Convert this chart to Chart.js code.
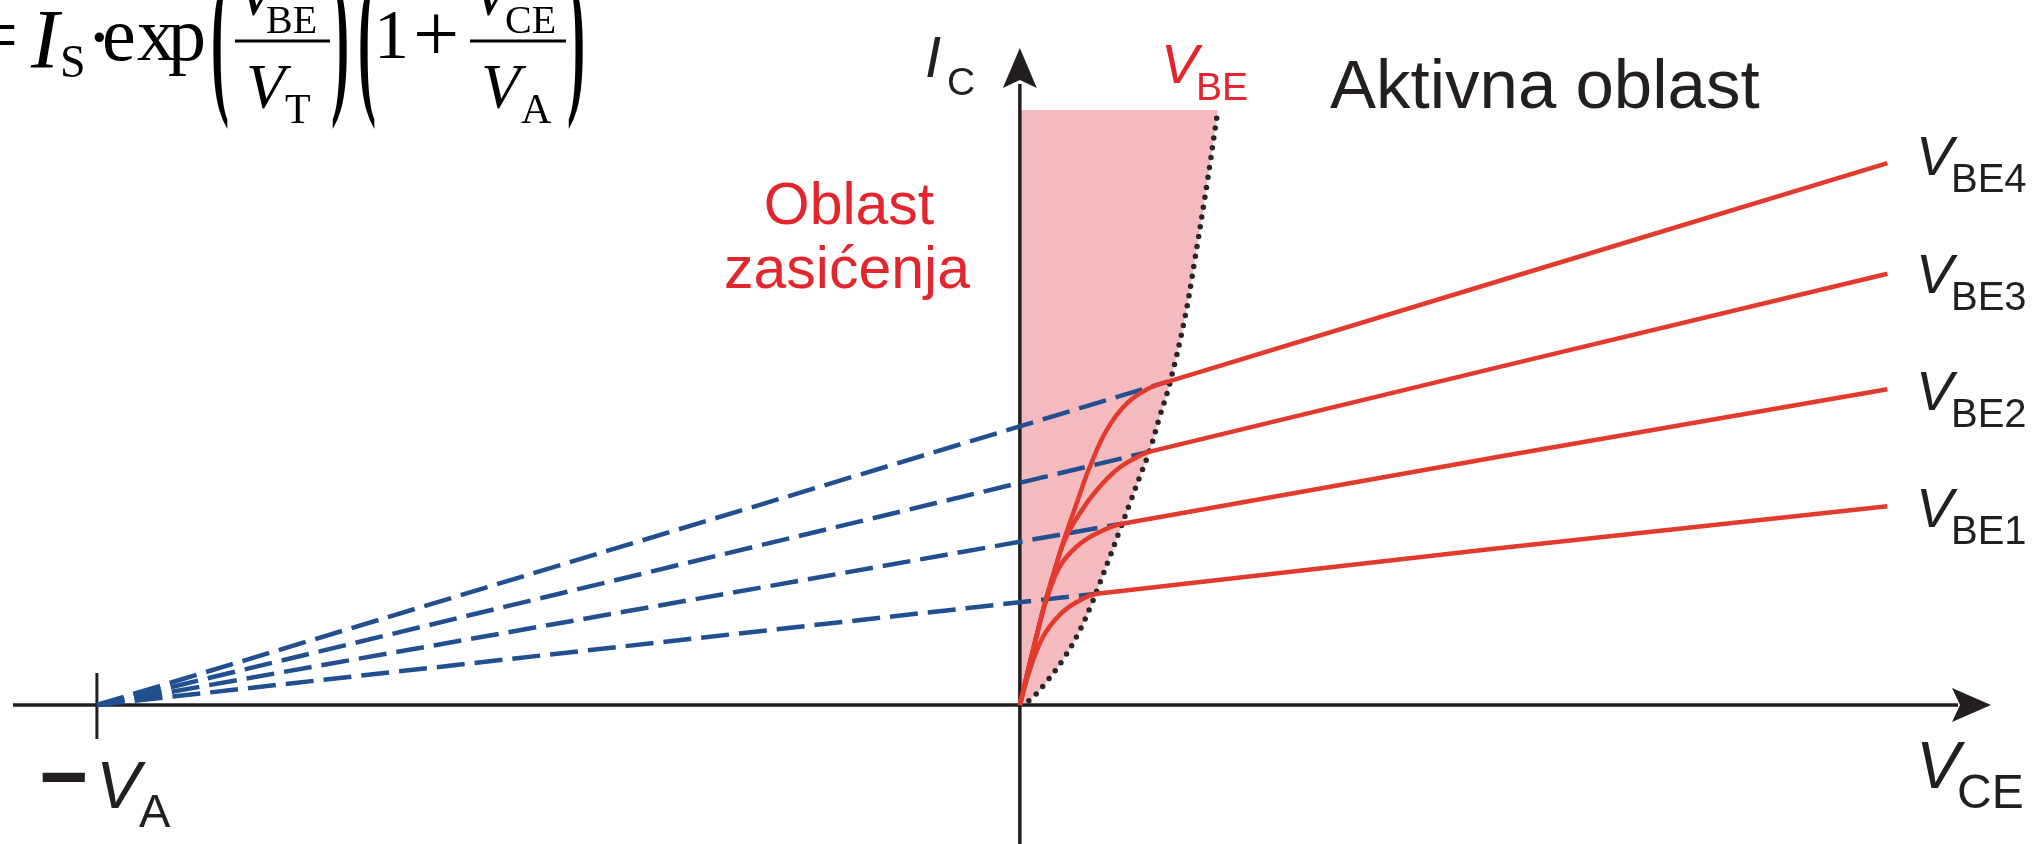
<!DOCTYPE html>
<html lang="hr">
<head>
    <meta charset="UTF-8">
    <title>Izlazne karakteristike bipolarnog tranzistora</title>
    <script src="https://cdn.jsdelivr.net/npm/chart.js"></script>
    <style>
        html, body {
            margin: 0;
            padding: 0;
            background: #ffffff;
            overflow: hidden;
        }
        .chart-box {
            position: relative;
            width: 2036px;
            height: 844px;
        }
    </style>
</head>
<body>
    <div class="chart-box">
        <canvas id="icChart"></canvas>
    </div>

    <script>
        // Earlyjev napon (V) i raspon osi (VCE u V, IC u mA)
        const VA = 50;
        const xRange = [-55.25, 55.05];
        const yRange = [-1.986, 10.071];

        // Zasićenje: IC(VCE) od ishodišta do koljena, za svaki VBE
        const satBE1 = [[0, 0], [0.54, 0.50], [1.25, 0.97], [2.17, 1.29], [3.09, 1.47], [4.17, 1.59]];
        const satBE2 = [[0, 0], [0.45, 0.50], [0.90, 0.98], [1.44, 1.50], [2.17, 1.98], [3.07, 2.26], [4.15, 2.45], [5.54, 2.59]];
        const satBE3 = [[0, 0], [0.45, 0.50], [0.90, 0.98], [1.30, 1.40], [1.80, 1.85], [2.44, 2.36], [3.25, 2.74], [4.17, 3.07], [5.25, 3.36], [6.34, 3.54], [7.04, 3.62]];
        const satBE4 = [[0, 0], [0.45, 0.50], [0.90, 0.98], [1.30, 1.40], [1.80, 1.85], [2.33, 2.31], [3.09, 2.89], [3.79, 3.40], [4.71, 3.93], [5.80, 4.31], [7.04, 4.53], [8.03, 4.62]];

        // Aktivno područje: kraj pravca na VCE = 47 V
        const vceEnd = 47;
        const icEnd = [2.84, 4.51, 6.16, 7.74];
        const curveNames = ['BE1', 'BE2', 'BE3', 'BE4'];

        // Granica zasićenja (VCE,sat) i vrh osjenčanog područja
        const satEdge = [[0, 0], [0.54, 0.07], [1.53, 0.36], [2.44, 0.69], [3.16, 1.02], [3.79, 1.38], [4.33, 1.74], [4.88, 2.12], [5.42, 2.50], [5.96, 2.88], [6.50, 3.26], [7.04, 3.64], [7.58, 4.12], [8.13, 4.60], [8.94, 5.53], [9.48, 6.36], [10.13, 7.43], [10.73, 8.50]];
        const satTop = [[0, 8.50], [10.73, 8.50]];

        const ink = '#231f20';
        const red = '#e3262d';
        const lineRed = '#e23a2d';
        const dashBlue = '#224f8f';
        const pink = '#f4babd';
        const SANS = '"Liberation Sans", Arial, sans-serif';
        const SERIF = '"Liberation Serif", "Times New Roman", serif';

        const pts = arr => arr.map(p => ({ x: p[0], y: p[1] }));
        const sats = [satBE1, satBE2, satBE3, satBE4];

        const datasets = [];
        datasets.push({
            label: 'zasicenje',
            data: pts(satTop),
            borderWidth: 0,
            backgroundColor: pink,
            fill: '+1',
            pointRadius: 0,
            order: 10
        });
        datasets.push({
            label: 'VCEsat',
            data: pts(satEdge),
            borderColor: '#262626',
            borderWidth: 5.5,
            borderDash: [0, 10],
            borderCapStyle: 'round',
            tension: 0.4,
            fill: false,
            pointRadius: 0,
            order: 3
        });
        sats.forEach((s, i) => {
            const knee = s[s.length - 1];
            datasets.push({
                label: 'VA ' + curveNames[i],
                data: pts([[-VA, 0], knee]),
                borderColor: dashBlue,
                borderWidth: 4.5,
                borderDash: [28, 10],
                fill: false,
                pointRadius: 0,
                order: 2
            });
            datasets.push({
                label: 'V' + curveNames[i],
                data: pts(s.concat([[vceEnd, icEnd[i]]])),
                borderColor: lineRed,
                borderWidth: 4.5,
                tension: 0.4,
                fill: false,
                pointRadius: 0,
                order: 1
            });
        });

        // Slovo s indeksom: V_BE, I_C ...
        function symbol(ctx, x, y, main, sub, size, subSize, subDx, subDy, color, family) {
            const fam = family || SANS;
            ctx.fillStyle = color;
            ctx.font = 'italic ' + size + 'px ' + fam;
            ctx.fillText(main, x, y);
            ctx.font = subSize + 'px ' + fam;
            ctx.fillText(sub, x + subDx, y + subDy);
        }

        function bigParen(ctx, ch, x, yTop, h) {
            ctx.save();
            ctx.font = 'bold 64px ' + SERIF;
            const m = ctx.measureText(ch);
            const gh = m.actualBoundingBoxAscent + m.actualBoundingBoxDescent;
            ctx.translate(x, yTop);
            ctx.scale(0.85, h / gh);
            ctx.fillText(ch, 0, m.actualBoundingBoxAscent);
            ctx.restore();
        }

        function drawFormula(ctx) {
            ctx.save();
            ctx.fillStyle = '#000';
            ctx.textBaseline = 'alphabetic';
            ctx.font = '80px ' + SERIF;
            ctx.fillText('=', -27, 62);
            ctx.font = 'italic 84px ' + SERIF;
            ctx.fillText('I', 31, 68);
            ctx.font = '46px ' + SERIF;
            ctx.fillText('S', 60, 77);
            ctx.font = '80px ' + SERIF;
            ctx.fillText('\u00b7', 86, 64);
            ctx.font = '76px ' + SERIF;
            ctx.fillText('e', 102, 60);
            ctx.fillText('x', 137, 60);
            ctx.fillText('p', 168, 60);
            bigParen(ctx, '(', 211, -30, 160);
            // V_BE / V_T
            ctx.fillRect(235, 39.5, 95, 3);
            symbol(ctx, 236, 15, 'V', 'BE', 64, 40, 30, 18, '#000', SERIF);
            symbol(ctx, 246, 108, 'V', 'T', 64, 42, 39, 15, '#000', SERIF);
            ctx.fillStyle = '#000';
            bigParen(ctx, ')', 331, -30, 160);
            bigParen(ctx, '(', 358, -30, 160);
            ctx.font = '70px ' + SERIF;
            ctx.fillText('1', 374, 58);
            ctx.font = '82px ' + SERIF;
            ctx.fillText('+', 413, 61);
            // V_CE / V_A
            ctx.fillRect(470, 39.5, 96, 3);
            symbol(ctx, 471, 15, 'V', 'CE', 64, 40, 34, 18, '#000', SERIF);
            symbol(ctx, 481, 108, 'V', 'A', 64, 42, 40, 15, '#000', SERIF);
            ctx.fillStyle = '#000';
            bigParen(ctx, ')', 567, -30, 160);
            ctx.restore();
        }

        const axesAndText = {
            id: 'axesAndText',
            afterDatasetDraw(chart, args) {
                if (args.index !== 0) return;
                const ctx = chart.ctx;
                const xs = chart.scales.x, ys = chart.scales.y;
                const x0 = xs.getPixelForValue(0), y0 = ys.getPixelForValue(0);
                const xa = xs.getPixelForValue(-VA);
                ctx.save();
                ctx.strokeStyle = ink;
                ctx.fillStyle = ink;
                ctx.lineWidth = 3.5;
                ctx.beginPath();
                ctx.moveTo(13, y0);
                ctx.lineTo(1958, y0);
                ctx.moveTo(x0, chart.height);
                ctx.lineTo(x0, 84);
                ctx.stroke();
                // strelice
                ctx.beginPath();
                ctx.moveTo(1991, y0);
                ctx.lineTo(1952, y0 - 17);
                ctx.lineTo(1960, y0);
                ctx.lineTo(1952, y0 + 17);
                ctx.closePath();
                ctx.fill();
                ctx.beginPath();
                ctx.moveTo(x0, 48);
                ctx.lineTo(x0 - 17, 88);
                ctx.lineTo(x0, 80);
                ctx.lineTo(x0 + 17, 88);
                ctx.closePath();
                ctx.fill();
                // oznaka -VA
                ctx.lineWidth = 3;
                ctx.beginPath();
                ctx.moveTo(xa, y0 - 32);
                ctx.lineTo(xa, y0 + 34);
                ctx.stroke();
                ctx.restore();
            },
            afterDraw(chart) {
                const ctx = chart.ctx;
                const xs = chart.scales.x;
                const xa = xs.getPixelForValue(-VA);
                ctx.save();
                ctx.textBaseline = 'alphabetic';
                ctx.textAlign = 'left';

                drawFormula(ctx);

                // oznake osi
                symbol(ctx, 925, 77, 'I', 'C', 58, 39, 22, 18, ink);
                symbol(ctx, 1916, 788, 'V', 'CE', 66, 48, 41, 20, ink);
                ctx.font = 'bold 84px ' + SANS;
                ctx.fillStyle = ink;
                ctx.fillText('\u2212', xa - 58, 805);
                symbol(ctx, xa - 1, 808, 'V', 'A', 67, 47, 43, 19, ink);

                // VBE oznaka granice zasićenja
                symbol(ctx, 1161, 83, 'V', 'BE', 56, 39, 35, 17, red);

                // nazivi područja
                ctx.fillStyle = ink;
                ctx.font = '69px ' + SANS;
                ctx.fillText('Aktivna oblast', 1330, 108);
                ctx.fillStyle = red;
                ctx.font = '59px ' + SANS;
                ctx.textAlign = 'center';
                ctx.fillText('Oblast', 849, 224);
                ctx.fillText('zasićenja', 847, 288);
                ctx.textAlign = 'left';

                // VBE1..VBE4 uz krajeve pravaca
                const labelBase = [527, 410, 293, 175];
                curveNames.forEach((n, i) => {
                    symbol(ctx, 1916, labelBase[i], 'V', n, 56, 40, 35, 17, ink);
                });
                ctx.restore();
            }
        };

        new Chart(document.getElementById('icChart'), {
            type: 'line',
            data: { datasets: datasets },
            options: {
                responsive: true,
                maintainAspectRatio: false,
                animation: false,
                events: [],
                layout: { padding: 0 },
                plugins: {
                    legend: { display: false },
                    tooltip: { enabled: false }
                },
                scales: {
                    x: { type: 'linear', min: xRange[0], max: xRange[1], display: false },
                    y: { type: 'linear', min: yRange[0], max: yRange[1], display: false }
                }
            },
            plugins: [axesAndText]
        });
    </script>
</body>
</html>
